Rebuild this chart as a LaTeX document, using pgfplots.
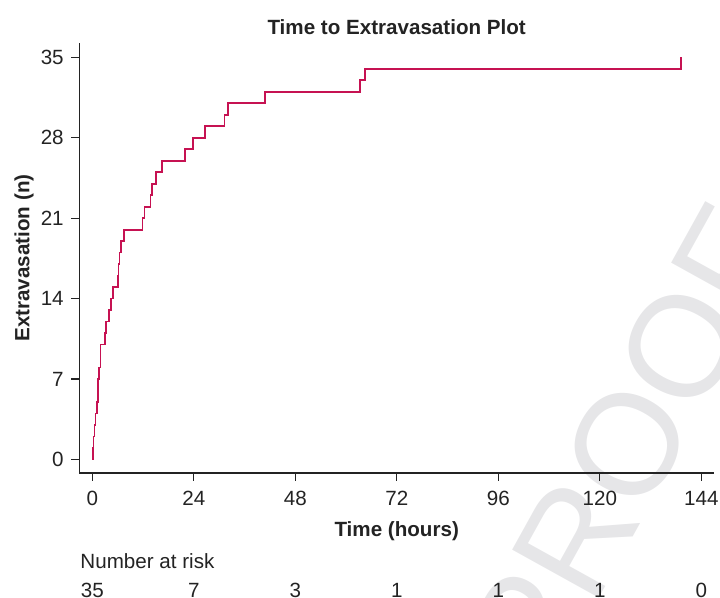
\documentclass[border=0pt]{standalone}
\usepackage{fontspec}
\setmainfont{Liberation Sans}
\usepackage{pgfplots}
\pgfplotsset{compat=1.18}
\usetikzlibrary{backgrounds}

\definecolor{kmred}{RGB}{198,18,82}
\definecolor{wmgray}{RGB}{230,230,232}
\definecolor{axdark}{RGB}{35,35,35}

\begin{document}
\fontsize{10.3}{12.4}\selectfont
\begin{tikzpicture}
\useasboundingbox (-39.65pt,-62.5pt) rectangle (320.35pt,236.5pt);
\begin{axis}[
    name=ax,
    at={(0,0)}, anchor=south west,
    scale only axis,
    width=317.4pt, height=215pt,
    xmin=-3.08, xmax=147,
    ymin=-1.17, ymax=36.24,
    axis x line*=bottom, axis y line*=left,
    axis line style={axdark, line width=0.7pt},
    every tick/.style={axdark, line width=0.6pt},
    tick align=outside,
    major tick length=4pt,
    xtick={0,24,...,144},
    ytick={0,7,...,35},
    /pgf/number format/assume math mode=true,
    xticklabel style={anchor=base, yshift=-12.5pt, text=axdark},
    yticklabel style={anchor=east, inner sep=0pt, xshift=-3.6pt, text=axdark},
    title={\bfseries Time to Extravasation Plot},
    title style={at={(0.5,1.0256)}, anchor=base, yshift=-7.5pt, text=axdark},
    xlabel={\bfseries Time (hours)},
    xlabel style={at={(0.5,-0.1481)}, anchor=base, text=axdark},
    ylabel={\bfseries Extravasation (n)},
    ylabel style={at={(-0.0785,0.5)}, anchor=base, text=axdark},
    clip=false,
]
\addplot[const plot, kmred, line width=0.85pt] coordinates {
    (0,0) (0.15,1) (0.31,2) (0.54,3) (0.78,4) (1.1,5) (1.35,7) (1.6,8)
    (1.9,10) (3.0,11) (3.23,12) (3.94,13) (4.45,14) (4.9,15) (6.0,16)
    (6.22,17) (6.46,18) (6.78,19) (7.41,20) (11.83,21) (12.3,22)
    (13.72,23) (14.04,24) (14.98,25) (16.4,26) (21.92,27) (23.82,28)
    (26.66,29) (31.23,30) (32.1,31) (40.78,32) (63.27,33) (64.45,34)
    (139.2,35)
};
% number at risk table
\node[anchor=base west, inner sep=0pt, text=axdark] at (axis cs:-2.9,-9.44) {Number at risk};
\node[anchor=base, inner sep=0pt, text=axdark] at (axis cs:0,-11.96) {35};
\node[anchor=base, inner sep=0pt, text=axdark] at (axis cs:24,-11.96) {7};
\node[anchor=base, inner sep=0pt, text=axdark] at (axis cs:48,-11.96) {3};
\node[anchor=base, inner sep=0pt, text=axdark] at (axis cs:72,-11.96) {1};
\node[anchor=base, inner sep=0pt, text=axdark] at (axis cs:96,-11.96) {1};
\node[anchor=base, inner sep=0pt, text=axdark] at (axis cs:120,-11.96) {1};
\node[anchor=base, inner sep=0pt, text=axdark] at (axis cs:144,-11.96) {0};
\coordinate (wm) at (axis cs:126.5,1.3);
\end{axis}
\begin{scope}[on background layer]
\node[overlay, rotate=61, inner sep=0pt, text=wmgray, font=\fontsize{72}{72}\selectfont] at (wm) {PROOF};
\end{scope}
\end{tikzpicture}
\end{document}
